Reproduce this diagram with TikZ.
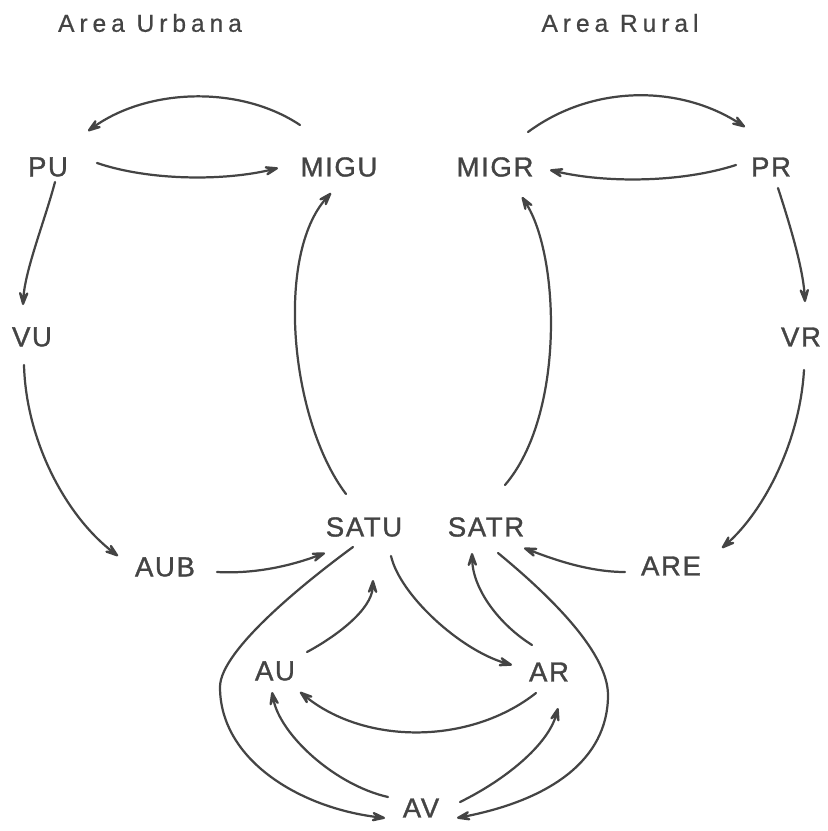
\documentclass[tikz,border=0pt]{standalone}
\usepackage{fontspec}
\setmainfont{Liberation Sans}
\newfontfamily\labfont[LetterSpace=6,FakeBold=1.2]{Liberation Sans}
\newfontfamily\titfont[LetterSpace=20,FakeBold=0.6]{Liberation Sans}
\usetikzlibrary{arrows.meta,calc}
\definecolor{ink}{HTML}{444444}
\begin{document}
\begin{tikzpicture}[x=0.03cm, y=-0.03cm,
  lab/.style={inner sep=0pt, text=ink, font=\labfont\fontsize{23.5}{27}\selectfont},
  tit/.style={inner sep=0pt, text=ink, font=\titfont\fontsize{21}{25}\selectfont},
  con/.style={draw=ink, line width=1.9pt, line cap=round,
    -{Stealth[length=6.5mm,width=4.4mm,inset=3.3mm,round]}}]
\useasboundingbox (0,0) rectangle (827,831);
% titles
\node[tit] (tu) at (150,23) {Area Urbana};
\node[tit] (tr) at (620,23) {Area Rural};
% nodes
\node[lab] (PU)   at (48,167)  {PU};
\node[lab] (MIGU) at (339,167) {MIGU};
\node[lab] (MIGR) at (495,167) {MIGR};
\node[lab] (PR)   at (771,167) {PR};
\node[lab] (VU)   at (32,337)  {VU};
\node[lab] (VR)   at (801,337) {VR};
\node[lab] (SATU) at (364,527) {SATU};
\node[lab] (SATR) at (486,527) {SATR};
\node[lab] (AUB)  at (165,567) {AUB};
\node[lab] (ARE)  at (671,566) {ARE};
\node[lab] (AU)   at (275,671) {AU};
\node[lab] (AR)   at (549,672) {AR};
\node[lab] (AV)   at (421,808) {AV};
\coordinate (lw) at (220,687);
\coordinate (rw) at (608,695);
% connectors
\draw[con] ($(MIGU.center)+(-39,-42)$) .. controls +(-60,-40) and +(60,-43) .. ($(PU.center)+(40,-36)$);
\draw[con] ($(PU.center)+(49,-4)$) .. controls +(53,18) and +(-53,13) .. ($(MIGU.center)+(-61,1)$);
\draw[con] ($(MIGR.center)+(33,-35)$) .. controls +(65,-48) and +(-65,-42) .. ($(PR.center)+(-26,-40)$);
\draw[con] ($(PR.center)+(-35,-2)$) .. controls +(-56,18) and +(55,13) .. ($(MIGR.center)+(55,3)$);
\draw[con] ($(PU.center)+(7,15)$) .. controls +(-10,38) and +(2,-35) .. ($(VU.center)+(-9,-32)$);
\draw[con] ($(PR.center)+(7,21)$) .. controls +(12,37) and +(-2,-34) .. ($(VR.center)+(4,-35)$);
\draw[con] ($(VU.center)+(-8,28)$) .. controls +(2,75) and +(-53,-41) .. ($(AUB.center)+(-47,-11)$);
\draw[con] ($(VR.center)+(3,33)$) .. controls +(-4,70) and +(43,-38) .. ($(ARE.center)+(51,-18)$);
\draw[con] ($(AUB.center)+(52,5)$) .. controls +(38,2) and +(-35,13) .. ($(SATU.center)+(-39,26)$);
\draw[con] ($(ARE.center)+(-46,6)$) .. controls +(-35,0) and +(31,12) .. ($(SATR.center)+(38,21)$);
\draw[con] ($(SATU.center)+(-18,-33)$) .. controls +(-56,-74) and +(-56,62) .. ($(MIGU.center)+(-8,26)$);
\draw[con] ($(SATR.center)+(19,-42)$) .. controls +(60,-70) and +(38,59) .. ($(MIGR.center)+(27,30)$);
\draw[con] ($(SATU.center)+(27,29)$) .. controls +(9,39) and +(-52,-15) .. ($(AR.center)+(-37,-7)$);
\draw[con] ($(AU.center)+(32,-19)$) .. controls +(28,-15) and +(-1,30) .. ($(SATU.center)+(9,53)$);
\draw[con] ($(AR.center)+(-17,-27)$) .. controls +(-32,-20) and +(1,37) .. ($(SATR.center)+(-14,26)$);
\draw[con] ($(AR.center)+(-13,21)$) .. controls +(-66,52) and +(65,53) .. ($(AU.center)+(25,21)$);
\draw[con] ($(AV.center)+(-33,-11)$) .. controls +(-53,-12) and +(8,43) .. ($(AU.center)+(-3,21)$);
\draw[con] ($(AV.center)+(39,-6)$) .. controls +(45,-22) and +(-10,37) .. ($(AR.center)+(9,36)$);
\draw[con] ($(SATU.center)+(-11,20)$) .. controls +(-45,33) and +(0,-37) .. (lw)
  .. controls +(0,73) and +(-85,-10) .. ($(AV.center)+(-36,10)$);
\draw[con] ($(SATR.center)+(12,26)$) .. controls +(45,37) and +(0,-45) .. (rw)
  .. controls +(0,65) and +(93,-18) .. ($(AV.center)+(36,10)$);
\end{tikzpicture}
\end{document}
